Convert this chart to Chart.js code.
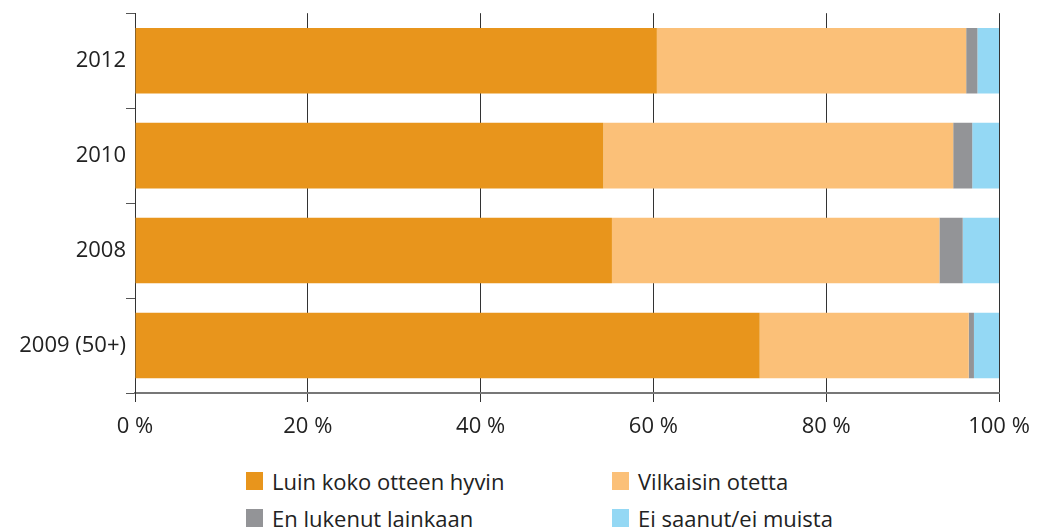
<!DOCTYPE html>
<html>
<head>
<meta charset="utf-8">
<script src="https://cdn.jsdelivr.net/npm/chart.js@4.4.1/dist/chart.umd.min.js"></script>
<style>
  html, body { margin: 0; padding: 0; background: #fff; }
  #wrap { position: relative; width: 1040px; height: 531px; }
  #chartBox { position: absolute; left: 0; top: 0; width: 1040px; height: 450px; }
  .leg { position: absolute; font-family: "Open Sans", sans-serif; font-size: 22px; color: #222; white-space: nowrap; line-height: 24px; }
  .leg span.sw { position: absolute; left: 0; top: 3px; width: 17px; height: 18px; }
  .leg span.tx { position: absolute; left: 26px; top: 0; }
</style>
</head>
<body>
<div id="wrap">
  <div id="chartBox"><canvas id="c"></canvas></div>
  <div id="legend"></div>
</div>
<script>
const categories = ['2012', '2010', '2008', '2009 (50+)'];
const seriesNames = ['Luin koko otteen hyvin', 'Vilkaisin otetta', 'En lukenut lainkaan', 'Ei saanut/ei muista'];
const readWell = [60.4, 54.2, 55.2, 72.3];
const glanced = [35.8, 40.5, 37.9, 24.2];
const notRead = [1.3, 2.2, 2.7, 0.6];
const noneReceived = [2.5, 3.1, 4.2, 2.9];
const xTicks = [0, 20, 40, 60, 80, 100];

const colors = ['#e8951c', '#fbc078', '#939497', '#94d8f4'];
const values = [readWell, glanced, notRead, noneReceived];

const FONT = '"Open Sans", sans-serif';

const chart = new Chart(document.getElementById('c'), {
    type: 'bar',
    data: {
        labels: categories,
        datasets: seriesNames.map((name, i) => ({
            label: name,
            data: values[i],
            backgroundColor: colors[i],
            borderWidth: 0,
            barPercentage: 0.69,
            categoryPercentage: 1
        }))
    },
    options: {
        indexAxis: 'y',
        responsive: true,
        maintainAspectRatio: false,
        animation: false,
        layout: { padding: { top: 12, right: 41, left: 0, bottom: 0 } },
        plugins: {
            legend: { display: false },
            tooltip: { enabled: false }
        },
        scales: {
            x: {
                stacked: true,
                min: 0,
                max: 100,
                afterBuildTicks: s => { s.ticks = xTicks.map(v => ({ value: v })); },
                afterFit: s => { s.height = 57; s.paddingRight = 0; s.paddingLeft = 0; },
                grid: { color: '#333', lineWidth: 1, tickLength: 9, drawTicks: true },
                border: { color: '#777', width: 2 },
                ticks: {
                    color: '#222',
                    padding: 12,
                    font: { family: FONT, size: 22 },
                    callback: v => v + ' %'
                }
            },
            y: {
                stacked: true,
                afterFit: s => { s.width = 135; },
                grid: { drawOnChartArea: false, drawTicks: true, tickLength: 9, color: '#555', offset: true },
                border: { color: '#333', width: 1 },
                ticks: {
                    color: '#222',
                    padding: 0,
                    font: { family: FONT, size: 22 }
                }
            }
        }
    }
});

// legend in two columns, built from the datasets
const legendPos = [[246, 469], [612, 469], [246, 506], [612, 506]];
const legendBox = document.getElementById('legend');
chart.data.datasets.forEach((ds, i) => {
    const d = document.createElement('div');
    d.className = 'leg';
    d.style.left = legendPos[i][0] + 'px';
    d.style.top = legendPos[i][1] + 'px';
    d.innerHTML = '<span class="sw" style="background:' + ds.backgroundColor + '"></span><span class="tx">' + ds.label + '</span>';
    legendBox.appendChild(d);
});
</script>
</body>
</html>
